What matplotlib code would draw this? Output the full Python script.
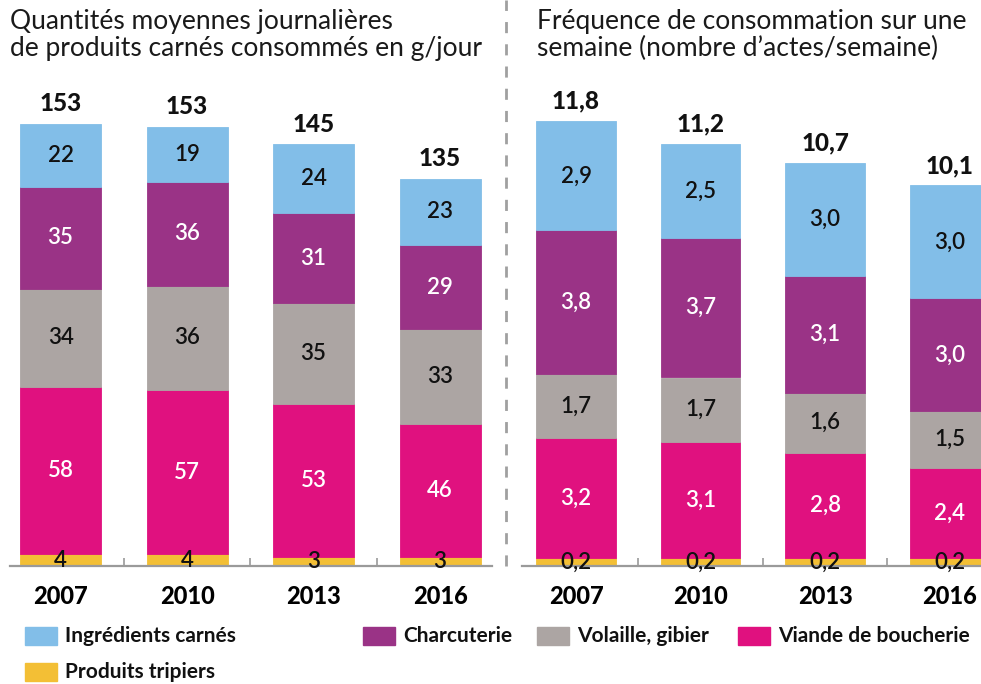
import matplotlib.pyplot as plt
from matplotlib.patches import Rectangle
import numpy as np

# data
years = ['2007', '2010', '2013', '2016']
categories = ['Produits tripiers', 'Viande de boucherie', 'Volaille, gibier',
              'Charcuterie', 'Ingrédients carnés']
colors = ['#F3BF35', '#E0117F', '#ACA5A3', '#9A3386', '#82BEE8']
text_colors = ['#111111', 'white', '#111111', 'white', '#111111']

# quantities in g/day, bottom to top
qty_tripiers = [4, 4, 3, 3]
qty_viande = [58, 57, 53, 46]
qty_volaille = [34, 36, 35, 33]
qty_charcuterie = [35, 36, 31, 29]
qty_ingredients = [22, 19, 24, 23]
qty_totals = [153, 153, 145, 135]

# frequency in acts/week, bottom to top
freq_tripiers = [0.2, 0.2, 0.2, 0.2]
freq_viande = [3.2, 3.1, 2.8, 2.4]
freq_volaille = [1.7, 1.7, 1.6, 1.5]
freq_charcuterie = [3.8, 3.7, 3.1, 3.0]
freq_ingredients = [2.9, 2.5, 3.0, 3.0]
freq_totals = [11.8, 11.2, 10.7, 10.1]

title_left = 'Quantités moyennes journalières\nde produits carnés consommés en g/jour'
title_right = 'Fréquence de consommation sur une\nsemaine (nombre d\u2019actes/semaine)'

grey = '#9a9a9a'
lato = ['Lato', 'DejaVu Sans']

fig = plt.figure(figsize=(9.81, 6.84), dpi=100)
W, H = 981, 684


def px_axes(x0, x1, ybase, ytop):
    return fig.add_axes([x0 / W, (H - ybase) / H, (x1 - x0) / W, (ybase - ytop) / H])


def stacked(ax, series, totals, fmt, ylim_top, xlim):
    x = np.arange(len(years))
    bottom = np.zeros(len(years))
    for vals, col, tcol in zip(series, colors, text_colors):
        vals = np.array(vals, dtype=float)
        ax.bar(x, vals, 0.64, bottom=bottom, color=col, edgecolor=col,
               linewidth=0.6, zorder=2)
        for xi, b, v in zip(x, bottom, vals):
            ax.text(xi, b + v / 2, fmt(v), ha='center', va='center', color=tcol,
                    fontsize=16, family=lato, fontweight='semibold', zorder=3)
        bottom += vals
    for xi, b, t in zip(x, bottom, totals):
        ax.annotate(fmt(t), (xi, b), xytext=(0, 6), textcoords='offset points',
                    ha='center', va='bottom', fontsize=17.5, fontweight='black',
                    family=lato, color='#111111')
    ax.set_ylim(0, ylim_top)
    ax.set_xlim(*xlim)
    for s in ['left', 'right', 'top']:
        ax.spines[s].set_visible(False)
    ax.spines['bottom'].set_color(grey)
    ax.spines['bottom'].set_linewidth(1.6)
    ax.set_yticks([])
    ax.set_xticks(x)
    ax.set_xticklabels(years, fontsize=17, fontweight='black', family=lato)
    ax.tick_params(axis='x', which='major', length=0, pad=14)
    ax.set_xticks(x[:-1] + 0.5, minor=True)
    ax.tick_params(axis='x', which='minor', direction='in', length=6,
                   color=grey, width=1.2)


ax1 = px_axes(10, 492, 566, 80)
stacked(ax1, [qty_tripiers, qty_viande, qty_volaille, qty_charcuterie, qty_ingredients],
        qty_totals, lambda v: f'{v:.0f}', 486 / 2.89, (-0.40, 3.41))

ax2 = px_axes(522, 1000, 566, 80)
stacked(ax2, [freq_tripiers, freq_viande, freq_volaille, freq_charcuterie, freq_ingredients],
        freq_totals, lambda v: f'{v:.1f}'.replace('.', ','), 486 / 37.7, (-0.434, 3.405))

# titles
fig.text(10 / W, 1 - 9 / H, title_left, ha='left', va='top', fontsize=19,
         family=lato, color='#1a1a1a', linespacing=1.12)
fig.text(537 / W, 1 - 9 / H, title_right, ha='left', va='top', fontsize=19,
         family=lato, color='#1a1a1a', linespacing=1.12)

# dashed separator
fig.add_artist(plt.Line2D([506 / W, 506 / W], [(H - 566) / H, 1], color='#a0a0a0',
                          lw=2, linestyle=(0, (4, 4))))

# legend
legend_items = [(4, 25, 636), (3, 363, 636), (2, 537, 636), (1, 738, 636), (0, 25, 672)]
for idx, lx, ly in legend_items:
    fig.add_artist(Rectangle((lx / W, (H - ly - 9) / H), 32 / W, 18 / H,
                             transform=fig.transFigure, color=colors[idx]))
    fig.text((lx + 40) / W, (H - ly) / H, categories[idx], ha='left', va='center',
             fontsize=15, fontweight='bold', family=lato, color='#111111')

fig.savefig('out.png', dpi=100)
